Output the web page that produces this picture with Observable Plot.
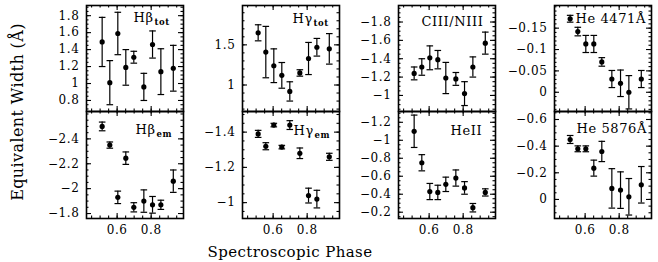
<!DOCTYPE html>
<html><head><meta charset="utf-8">
<script src="https://cdn.jsdelivr.net/npm/d3@7"></script>
<script src="https://cdn.jsdelivr.net/npm/@observablehq/plot@0.6"></script>
<style>
html,body{margin:0;padding:0;background:#fff;}
#chart{position:relative;width:658px;height:262px;overflow:hidden;font-family:"DejaVu Serif",serif;color:#000;}
#chart svg{position:absolute;overflow:visible;background:none;}
.ttl{position:absolute;white-space:nowrap;transform:translate(-50%,-50%);}
</style></head><body><div id="chart"></div>
<script>
// ---- data ----
const phase = [0.512, 0.557, 0.604, 0.651, 0.698, 0.757, 0.808, 0.857, 0.930];

const hbTot    = [1.49, 1.01, 1.59, 1.19, 1.31, 0.96, 1.46, 1.14, 1.18];
const hbTotErr = [0.29, 0.26, 0.25, 0.21, 0.07, 0.16, 0.16, 0.27, 0.27];
const hgTot    = [1.65, 1.41, 1.24, 1.12, 0.92, 1.15, 1.33, 1.47, 1.45];
const hgTotErr = [0.10, 0.32, 0.21, 0.16, 0.12, 0.04, 0.20, 0.11, 0.19];
const cn       = [-1.24, -1.31, -1.41, -1.39, -1.19, -1.18, -1.02, -1.31, -1.57];
const cnErr    = [0.07, 0.09, 0.13, 0.10, 0.17, 0.07, 0.13, 0.11, 0.12];
const he4471   = [-0.172, -0.142, -0.113, -0.113, -0.071, -0.031, -0.021, 0.0, -0.031];
const he4471Err= [0.008, 0.010, 0.020, 0.020, 0.010, 0.020, 0.031, 0.039, 0.020];
const hbEm     = [-2.50, -2.35, -1.93, -2.245, -1.85, -1.90, -1.87, -1.87, -2.06];
const hbEmErr  = [0.035, 0.025, 0.05, 0.05, 0.037, 0.09, 0.067, 0.037, 0.09];
const hgEm     = [-1.39, -1.32, -1.44, -1.315, -1.44, -1.28, -1.04, -1.02, -1.26];
const hgEmErr  = [0.02, 0.02, 0.01, 0.01, 0.025, 0.03, 0.042, 0.05, 0.02];
const heII     = [-1.10, -0.75, -0.43, -0.42, -0.51, -0.58, -0.47, -0.25, -0.42];
const heIIErr  = [0.18, 0.09, 0.09, 0.08, 0.08, 0.09, 0.07, 0.047, 0.04];
const he5876   = [-0.45, -0.38, -0.38, -0.235, -0.36, -0.083, -0.07, -0.02, -0.11];
const he5876Err= [0.03, 0.022, 0.022, 0.06, 0.076, 0.148, 0.137, 0.137, 0.137];

const xTicks = [0.6, 0.8];
const yTicksHbTot = [0.8, 1, 1.2, 1.4, 1.6, 1.8];
const yTicksHgTot = [1, 1.5];
const yTicksCN    = [-1.8, -1.6, -1.4, -1.2, -1];
const yTicks4471  = [-0.15, -0.1, -0.05, 0];
const yTicksHbEm  = [-2.4, -2.2, -2, -1.8];
const yTicksHgEm  = [-1.4, -1.2, -1];
const yTicksHeII  = [-1.2, -1, -0.8, -0.6, -0.4, -0.2];
const yTicks5876  = [-0.6, -0.4, -0.2, 0];

const xTitle = "Spectroscopic Phase";
const yTitle = "Equivalent Width (Å)";

// ---- layout ----
const colLeft = [86, 242, 398, 554];
const rowTop = [5, 111];
const rowH = [106, 107];
const FW = 97;
const xDomain = [0.42, 0.99];

const panels = [
  {v: hbTot, e: hbTotErr, dom: [0.67, 1.92], ticks: yTicksHbTot, minor: 0.05, main: "Hβ", sub: "tot", lx: 47, ly: 12, row: 0, col: 0},
  {v: hgTot, e: hgTotErr, dom: [0.67, 1.99], ticks: yTicksHgTot, minor: 0.1, main: "Hγ", sub: "tot", lx: 50, ly: 13, row: 0, col: 1},
  {v: cn, e: cnErr, dom: [-0.825, -1.98], ticks: yTicksCN, minor: 0.05, main: "CIII/NIII", sub: "", lx: 23, ly: 16, row: 0, col: 2},
  {v: he4471, e: he4471Err, dom: [0.045, -0.203], ticks: yTicks4471, minor: 0.01, main: "He 4471Å", sub: "", lx: 21, ly: 13, row: 0, col: 3},
  {v: hbEm, e: hbEmErr, dom: [-1.76, -2.62], ticks: yTicksHbEm, minor: 0.05, main: "Hβ", sub: "em", lx: 49, ly: 18, row: 1, col: 0},
  {v: hgEm, e: hgEmErr, dom: [-0.91, -1.517], ticks: yTicksHgEm, minor: 0.05, main: "Hγ", sub: "em", lx: 51, ly: 19, row: 1, col: 1},
  {v: heII, e: heIIErr, dom: [-0.13, -1.32], ticks: yTicksHeII, minor: 0.05, main: "HeII", sub: "", lx: 52, ly: 19, row: 1, col: 2},
  {v: he5876, e: he5876Err, dom: [0.143, -0.66], ticks: yTicks5876, minor: 0.05, main: "He 5876Å", sub: "", lx: 22, ly: 17, row: 1, col: 3}
];

const fmt = d3.format("~g");
const minorTicks = (dom, step) => {
  const lo = Math.min(...dom), hi = Math.max(...dom);
  return d3.range(Math.ceil(lo / step - 1e-9), Math.floor(hi / step + 1e-9) + 1).map(k => +(k * step).toFixed(6));
};
const capSymbol = {draw(ctx, size) { const w = Math.sqrt(size / Math.PI); ctx.moveTo(-w, 0); ctx.lineTo(w, 0); }};

const chart = document.getElementById("chart");
const mL = 50, mR = 2, mT = 2;

for (const p of panels) {
  const H = rowH[p.row];
  const showX = p.row === 1;
  const mB = showX ? 24 : 2;
  const data = phase.map((x, i) => ({x, y: p.v[i], lo: p.v[i] - p.e[i], hi: p.v[i] + p.e[i]}));
  const xMin = minorTicks(xDomain, 0.05);
  const yMin = minorTicks(p.dom, p.minor);
  const LMAJ = 5, LMIN = 2.5;
  const sw = 1.1;
  const marks = [
    Plot.tickX(xMin, {x: d => d, insetBottom: H - LMIN, strokeWidth: sw}),
    Plot.tickX(xMin, {x: d => d, insetTop: H - LMIN, strokeWidth: sw}),
    Plot.tickX(xTicks, {x: d => d, insetBottom: H - LMAJ, strokeWidth: sw}),
    Plot.tickX(xTicks, {x: d => d, insetTop: H - LMAJ, strokeWidth: sw}),
    Plot.tickY(yMin, {y: d => d, insetRight: FW - LMIN, strokeWidth: sw}),
    Plot.tickY(yMin, {y: d => d, insetLeft: FW - LMIN, strokeWidth: sw}),
    Plot.tickY(p.ticks, {y: d => d, insetRight: FW - LMAJ, strokeWidth: sw}),
    Plot.tickY(p.ticks, {y: d => d, insetLeft: FW - LMAJ, strokeWidth: sw}),
    Plot.ruleX(data, {x: "x", y1: "lo", y2: "hi", stroke: "black", strokeWidth: 1.2}),
    Plot.dot(data, {x: "x", y: "lo", symbol: capSymbol, r: 3.3, stroke: "black", fill: "none", strokeWidth: 1.2}),
    Plot.dot(data, {x: "x", y: "hi", symbol: capSymbol, r: 3.3, stroke: "black", fill: "none", strokeWidth: 1.2}),
    Plot.dot(data, {x: "x", y: "y", r: 2.6, fill: "black", stroke: null}),
    Plot.text([p.main], {frameAnchor: "top-left", dx: p.lx, dy: p.ly, text: d => d, textAnchor: "start", lineAnchor: "middle", fontSize: 13, fill: "black"}),
    Plot.frame({stroke: "black", strokeWidth: 1.6})
  ];
  if (p.sub) {
    marks.push(Plot.text([p.sub], {frameAnchor: "top-left", dx: p.lx + 21, dy: p.ly + 5, text: d => d, textAnchor: "start", lineAnchor: "middle", fontSize: 8.5, fontWeight: "bold", fill: "black"}));
  }
  const svg = Plot.plot({
    width: mL + FW + mR,
    height: mT + H + mB,
    marginLeft: mL, marginRight: mR, marginTop: mT, marginBottom: mB,
    style: {fontFamily: "'DejaVu Serif', serif", fontSize: "12px", letterSpacing: "0.6px", color: "black", background: "none", overflow: "visible"},
    x: {domain: xDomain, ticks: xTicks, tickSize: 0, tickPadding: 7, tickFormat: fmt, axis: showX ? "bottom" : null, label: null},
    y: {domain: p.dom, ticks: p.ticks, tickSize: 0, tickPadding: 7, tickFormat: fmt, label: null},
    marks
  });
  svg.style.left = (colLeft[p.col] - mL) + "px";
  svg.style.top = (rowTop[p.row] - mT) + "px";
  chart.appendChild(svg);
}

const xt = document.createElement("div");
xt.className = "ttl"; xt.textContent = xTitle;
xt.style.left = "290px"; xt.style.top = "252px"; xt.style.fontSize = "15px"; xt.style.letterSpacing = "0.4px";
chart.appendChild(xt);
const yt = document.createElement("div");
yt.className = "ttl"; yt.textContent = yTitle;
yt.style.left = "17px"; yt.style.top = "112px"; yt.style.fontSize = "16px"; yt.style.letterSpacing = "0.4px";
yt.style.transform = "translate(-50%,-50%) rotate(-90deg)";
chart.appendChild(yt);
</script>
</body></html>
